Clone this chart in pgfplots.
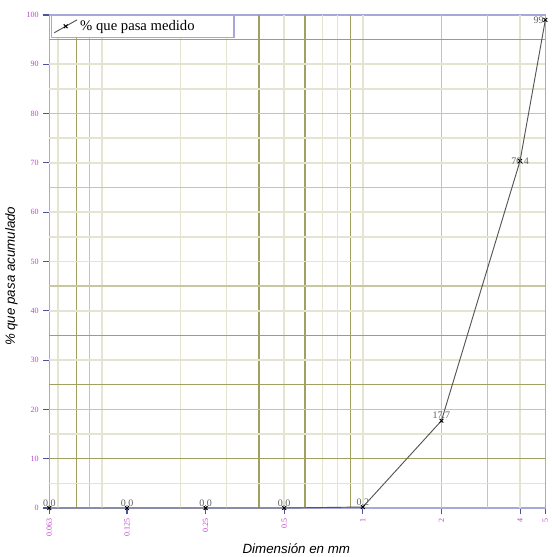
\documentclass[border=0pt]{standalone}
\usepackage{pgfplots}
\pgfplotsset{compat=1.18}
\usepackage{fontspec}
\setmainfont{Liberation Serif}
\setsansfont{Liberation Sans}
\definecolor{frame}{HTML}{A8A8D8}
\definecolor{gridL}{HTML}{E4E4D0}
\definecolor{gridM}{HTML}{C8C8A0}
\definecolor{gridD}{HTML}{A0A060}
\definecolor{ticklab}{HTML}{C040D0}
\definecolor{tickmk}{HTML}{5050A0}
\definecolor{serie}{HTML}{555555}

\begin{document}
\begin{tikzpicture}
\begin{axis}[
  scale only axis, width=372pt, height=369.75pt,
  xmode=log, log basis x=2,
  xmin=0.063, xmax=5, ymin=0, ymax=100,
  xtick={0.063,0.125,0.25,0.5,1,2,4,5},
  xticklabels={0.063,0.125,0.25,0.5,1,2,4,5},
  ytick={0,10,...,100},
  xtick pos=bottom, ytick pos=left,
  axis line style={frame, line width=1pt},
  tick style={tickmk, line width=0.8pt},
  tick align=outside,
  major tick length=4.5pt,
  xticklabel style={rotate=90, anchor=east, font=\fontsize{6}{7}\selectfont, text=ticklab},
  yticklabel style={font=\fontsize{6}{7}\selectfont, text=ticklab},
  /pgf/number format/assume math mode=true,
  xlabel={Dimensión en mm}, ylabel={\% que pasa acumulado},
  label style={font=\sffamily\itshape\fontsize{10}{12}\selectfont},
  xlabel style={at={(axis description cs:0.498,-0.082)}, anchor=center},
  ylabel style={at={(axis description cs:-0.0766,0.47)}, anchor=center},
  legend style={at={(axis description cs:0.004,1)}, anchor=north west, draw=frame,
    line width=0.8pt, font=\fontsize{11}{13}\selectfont, inner sep=1.5pt},
  legend image code/.code={\draw[mark repeat=2, mark phase=2, #1] plot coordinates {(0cm,-0.17cm) (0.3cm,0cm) (0.6cm,0.17cm)};},
  clip=false,
]
% grid
\pgfplotsinvokeforeach{0.068,0.1,0.2,0.3,0.5,0.7,0.8,1,4}{
  \draw[gridL, line width=1.2pt] (axis cs:#1,0) -- (axis cs:#1,100);}
\pgfplotsinvokeforeach{0.09,2,3}{
  \draw[gridM, line width=1pt] (axis cs:#1,0) -- (axis cs:#1,100);}
\pgfplotsinvokeforeach{0.08,0.4,0.6,0.9}{
  \draw[gridD, line width=0.9pt] (axis cs:#1,0) -- (axis cs:#1,100);}
\pgfplotsinvokeforeach{5,15,30,40,50,55,60,70,75,85,90}{
  \draw[gridL, line width=1.2pt] (axis cs:0.063,#1) -- (axis cs:5,#1);}
\pgfplotsinvokeforeach{20,45,65,80}{
  \draw[gridM, line width=1pt] (axis cs:0.063,#1) -- (axis cs:5,#1);}
\pgfplotsinvokeforeach{10,25,35,95}{
  \draw[gridD, line width=0.9pt] (axis cs:0.063,#1) -- (axis cs:5,#1);}

\addplot[serie, line width=0.7pt, mark=x, mark size=2pt, mark options={black}] coordinates {
  (0.063,0) (0.125,0) (0.25,0) (0.5,0) (1,0.2) (2,17.7) (4,70.4) (5,99)
};
\addlegendentry{\% que pasa medido\hspace*{26pt}}

% data labels
\addplot[draw=none, forget plot, nodes near coords, point meta=explicit symbolic,
  nodes near coords style={font=\fontsize{7.5}{8}\selectfont, text=gray!75!black, anchor=south, inner sep=1pt}]
  coordinates {
  (0.063,0) [0.0] (0.125,0) [0.0] (0.25,0) [0.0] (0.5,0) [0.0] (1,0.2) [0.2] (2,17.7) [17.7]
};
\addplot[draw=none, forget plot, nodes near coords, point meta=explicit symbolic,
  nodes near coords style={font=\fontsize{7.5}{8}\selectfont, text=gray!75!black, anchor=center, inner sep=1pt}]
  coordinates {(4,70.4) [70.4]};
\addplot[draw=none, forget plot, nodes near coords, point meta=explicit symbolic,
  nodes near coords style={font=\fontsize{7.5}{8}\selectfont, text=gray!75!black, anchor=east, inner sep=1pt}]
  coordinates {(5,99) [99]};
\end{axis}
\pgfresetboundingbox
\path[use as bounding box] (-37pt,-36.75pt) rectangle (376.25pt,381pt);
\end{tikzpicture}
\end{document}
